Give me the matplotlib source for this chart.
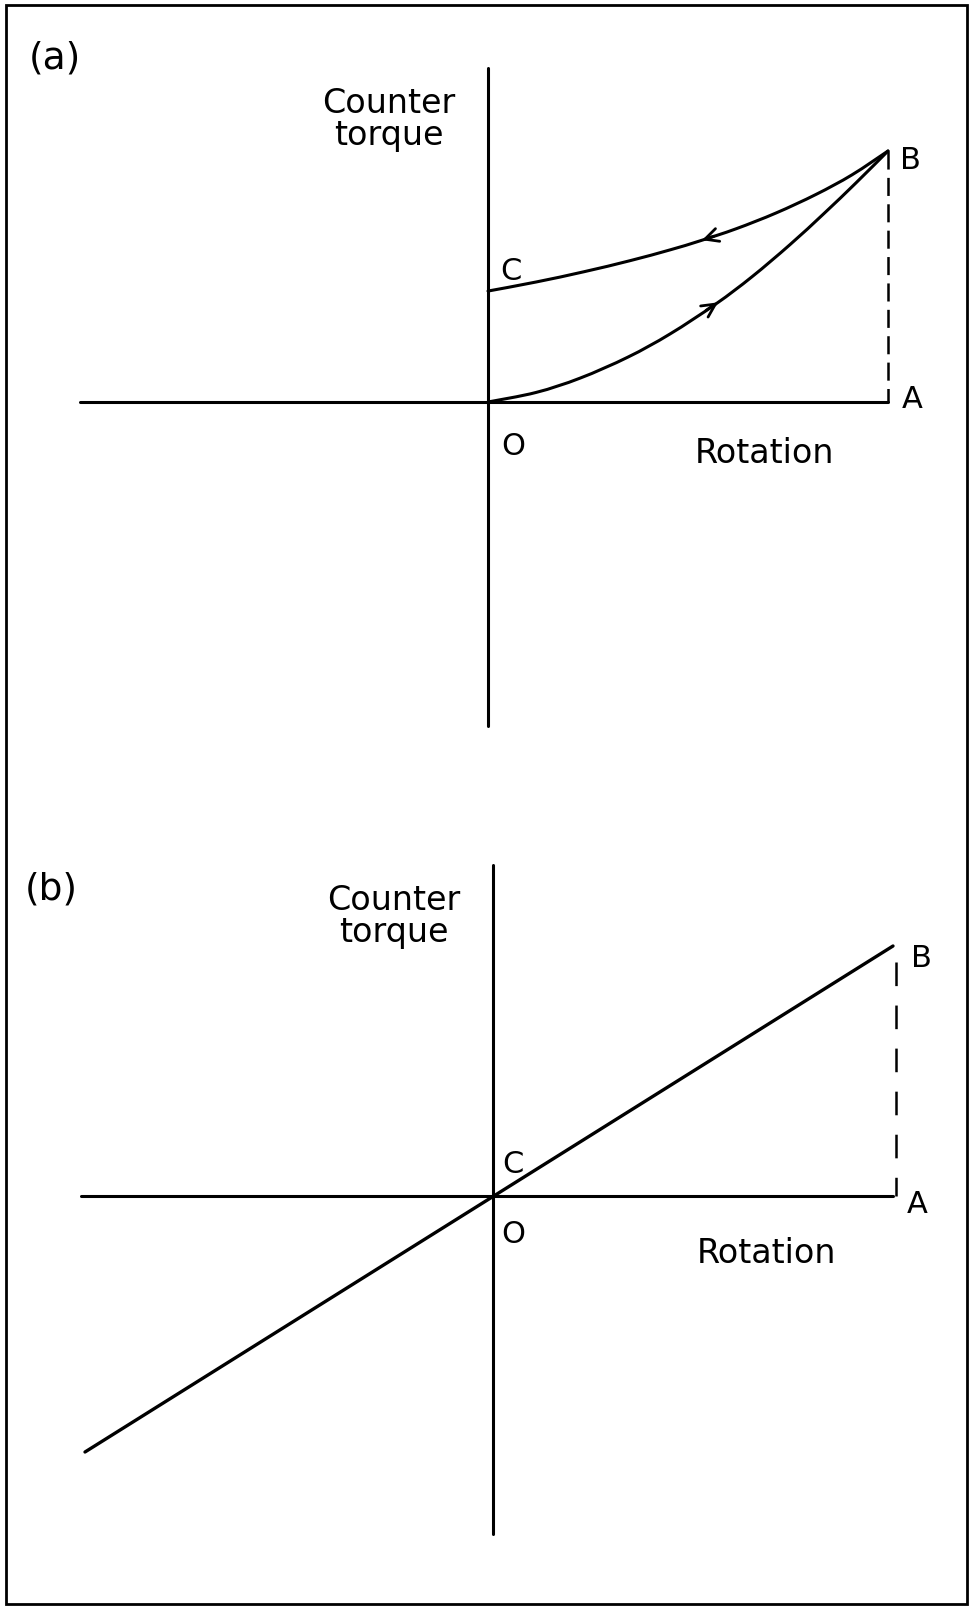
import numpy as np
import matplotlib
matplotlib.use("Agg")
import matplotlib.pyplot as plt
from matplotlib.patches import Rectangle, PathPatch
from matplotlib.path import Path

W, H = 971, 1608

# (a) loading curve O -> B and unloading curve B -> C (rotation, counter torque)
load_rot = [0.0, 0.12, 0.23, 0.35, 0.455, 0.57, 0.66, 0.755, 0.84, 0.92, 1.0]
load_torque = [0.0, 0.038, 0.095, 0.179, 0.271, 0.391, 0.499, 0.627, 0.751, 0.873, 1.0]
unload_rot = [1.0, 0.91, 0.82, 0.72, 0.62, 0.53, 0.455, 0.355, 0.24, 0.12, 0.0]
unload_torque = [1.0, 0.905, 0.827, 0.753, 0.690, 0.642, 0.606, 0.563, 0.519, 0.478, 0.442]
arrow_rot_a = [0.575, 0.535]  # where the arrowheads sit on the two curves

# axis extents in the same units
a_rot_range = [-1.02, 1.0]
a_torque_range = [-1.29, 1.33]

# (b) straight line through the origin
b_rot = [-1.02, 1.0]
b_torque = [-1.024, 1.0]
b_rot_range = [-1.03, 1.0]
b_torque_range = [-1.352, 1.324]
b_dash_top = 0.936

plt.rcParams['font.family'] = ['DejaVu Sans']
plt.rcParams['lines.scale_dashes'] = False
plt.rcParams['lines.solid_capstyle'] = 'round'

fig = plt.figure(figsize=(W / 100, H / 100), dpi=100)


def panel(top, bottom, ox, oy, sx, sy):
    ax = fig.add_axes([0, 1 - bottom / H, 1, (bottom - top) / H])
    ax.set_xlim(-ox / sx, (W - ox) / sx)
    ax.set_ylim((oy - bottom) / sy, (oy - top) / sy)
    ax.set_axis_off()
    return ax


def label(ax, s, xy, dx, dy, size=22):
    ax.annotate(s, xy=xy, xytext=(dx, dy), textcoords='offset pixels',
                ha='center', va='baseline', fontsize=size)


def axes_lines(ax, rot_range, torque_range):
    ax.plot(rot_range, [0, 0], color='black', lw=2.2)
    ax.plot([0, 0], torque_range, color='black', lw=2.2)
    top = (0, torque_range[1])
    label(ax, 'Counter', top, -99, -44, 24)
    label(ax, 'torque', top, -99, -76, 24)


def smooth_curve(ax, xs, ys, lw):
    # hand-drawn look: cubic Bezier pieces through the read points
    p = np.column_stack([xs, ys]).astype(float)
    ext = np.vstack([p[0], p, p[-1]])
    verts = [p[0]]
    codes = [Path.MOVETO]
    for i in range(len(p) - 1):
        c1 = ext[i + 1] + (ext[i + 2] - ext[i]) / 6
        c2 = ext[i + 2] - (ext[i + 3] - ext[i + 1]) / 6
        verts += [c1, c2, p[i + 1]]
        codes += [Path.CURVE4] * 3
    ax.add_patch(PathPatch(Path(verts, codes), fill=False, lw=lw,
                           edgecolor='black', capstyle='round'))


# ---------- panel (a)
ax = panel(0, 800, 488, 403, 400, 251)
axes_lines(ax, a_rot_range, a_torque_range)
smooth_curve(ax, load_rot, load_torque, 2.2)
smooth_curve(ax, unload_rot, unload_torque, 2.2)
ax.plot([load_rot[-1], load_rot[-1]], [load_torque[-1], 0], color='black',
        lw=1.8, linestyle=(0, (13, 6)))

# arrowheads along the curves
for curve_x, curve_y, xr, sign in [(load_rot, load_torque, arrow_rot_a[0], 1),
                                   (unload_rot[::-1], unload_torque[::-1], arrow_rot_a[1], -1)]:
    tip = (xr, np.interp(xr, curve_x, curve_y))
    back = xr - sign * 0.03
    tail = (back, np.interp(back, curve_x, curve_y))
    ax.annotate('', xy=tip, xytext=tail,
                arrowprops=dict(arrowstyle='->', lw=2.0, mutation_scale=24,
                                shrinkA=0, shrinkB=0, color='black'))

label(ax, 'B', (load_rot[-1], load_torque[-1]), 22, -17)
label(ax, 'A', (load_rot[-1], 0), 24, -5)
label(ax, 'C', (unload_rot[-1], unload_torque[-1]), 23, 12)
label(ax, 'O', (0, 0), 25, -52)
label(ax, 'Rotation', (0, 0), 277, -60, 24)
fig.text(55 / W, 1 - 58 / H, '(a)', fontsize=27, ha='center', va='center')

# ---------- panel (b)
ax = panel(800, H, 493, 1197, 400, 250)
axes_lines(ax, b_rot_range, b_torque_range)
ax.plot(b_rot, b_torque, color='black', lw=2.4)
ax.plot([b_rot[-1] + 0.008, b_rot[-1] + 0.008], [b_dash_top, 0], color='black',
        lw=1.8, linestyle=(0, (17, 14)))

label(ax, 'B', (b_rot[-1], b_torque[-1]), 28, -20)
label(ax, 'A', (b_rot[-1], 0), 24, -16)
label(ax, 'C', (0, 0), 20, 24)
label(ax, 'O', (0, 0), 20, -46)
label(ax, 'Rotation', (0, 0), 274, -66, 24)
fig.text(51 / W, 1 - 890 / H, '(b)', fontsize=27, ha='center', va='center')

# frame round the whole figure
fig.add_artist(Rectangle((6 / W, 3 / H), (967 - 6) / W, (1605 - 6) / H,
                         transform=fig.transFigure, fill=False, lw=2.0,
                         edgecolor='black'))

fig.savefig('out.png', dpi=100)
